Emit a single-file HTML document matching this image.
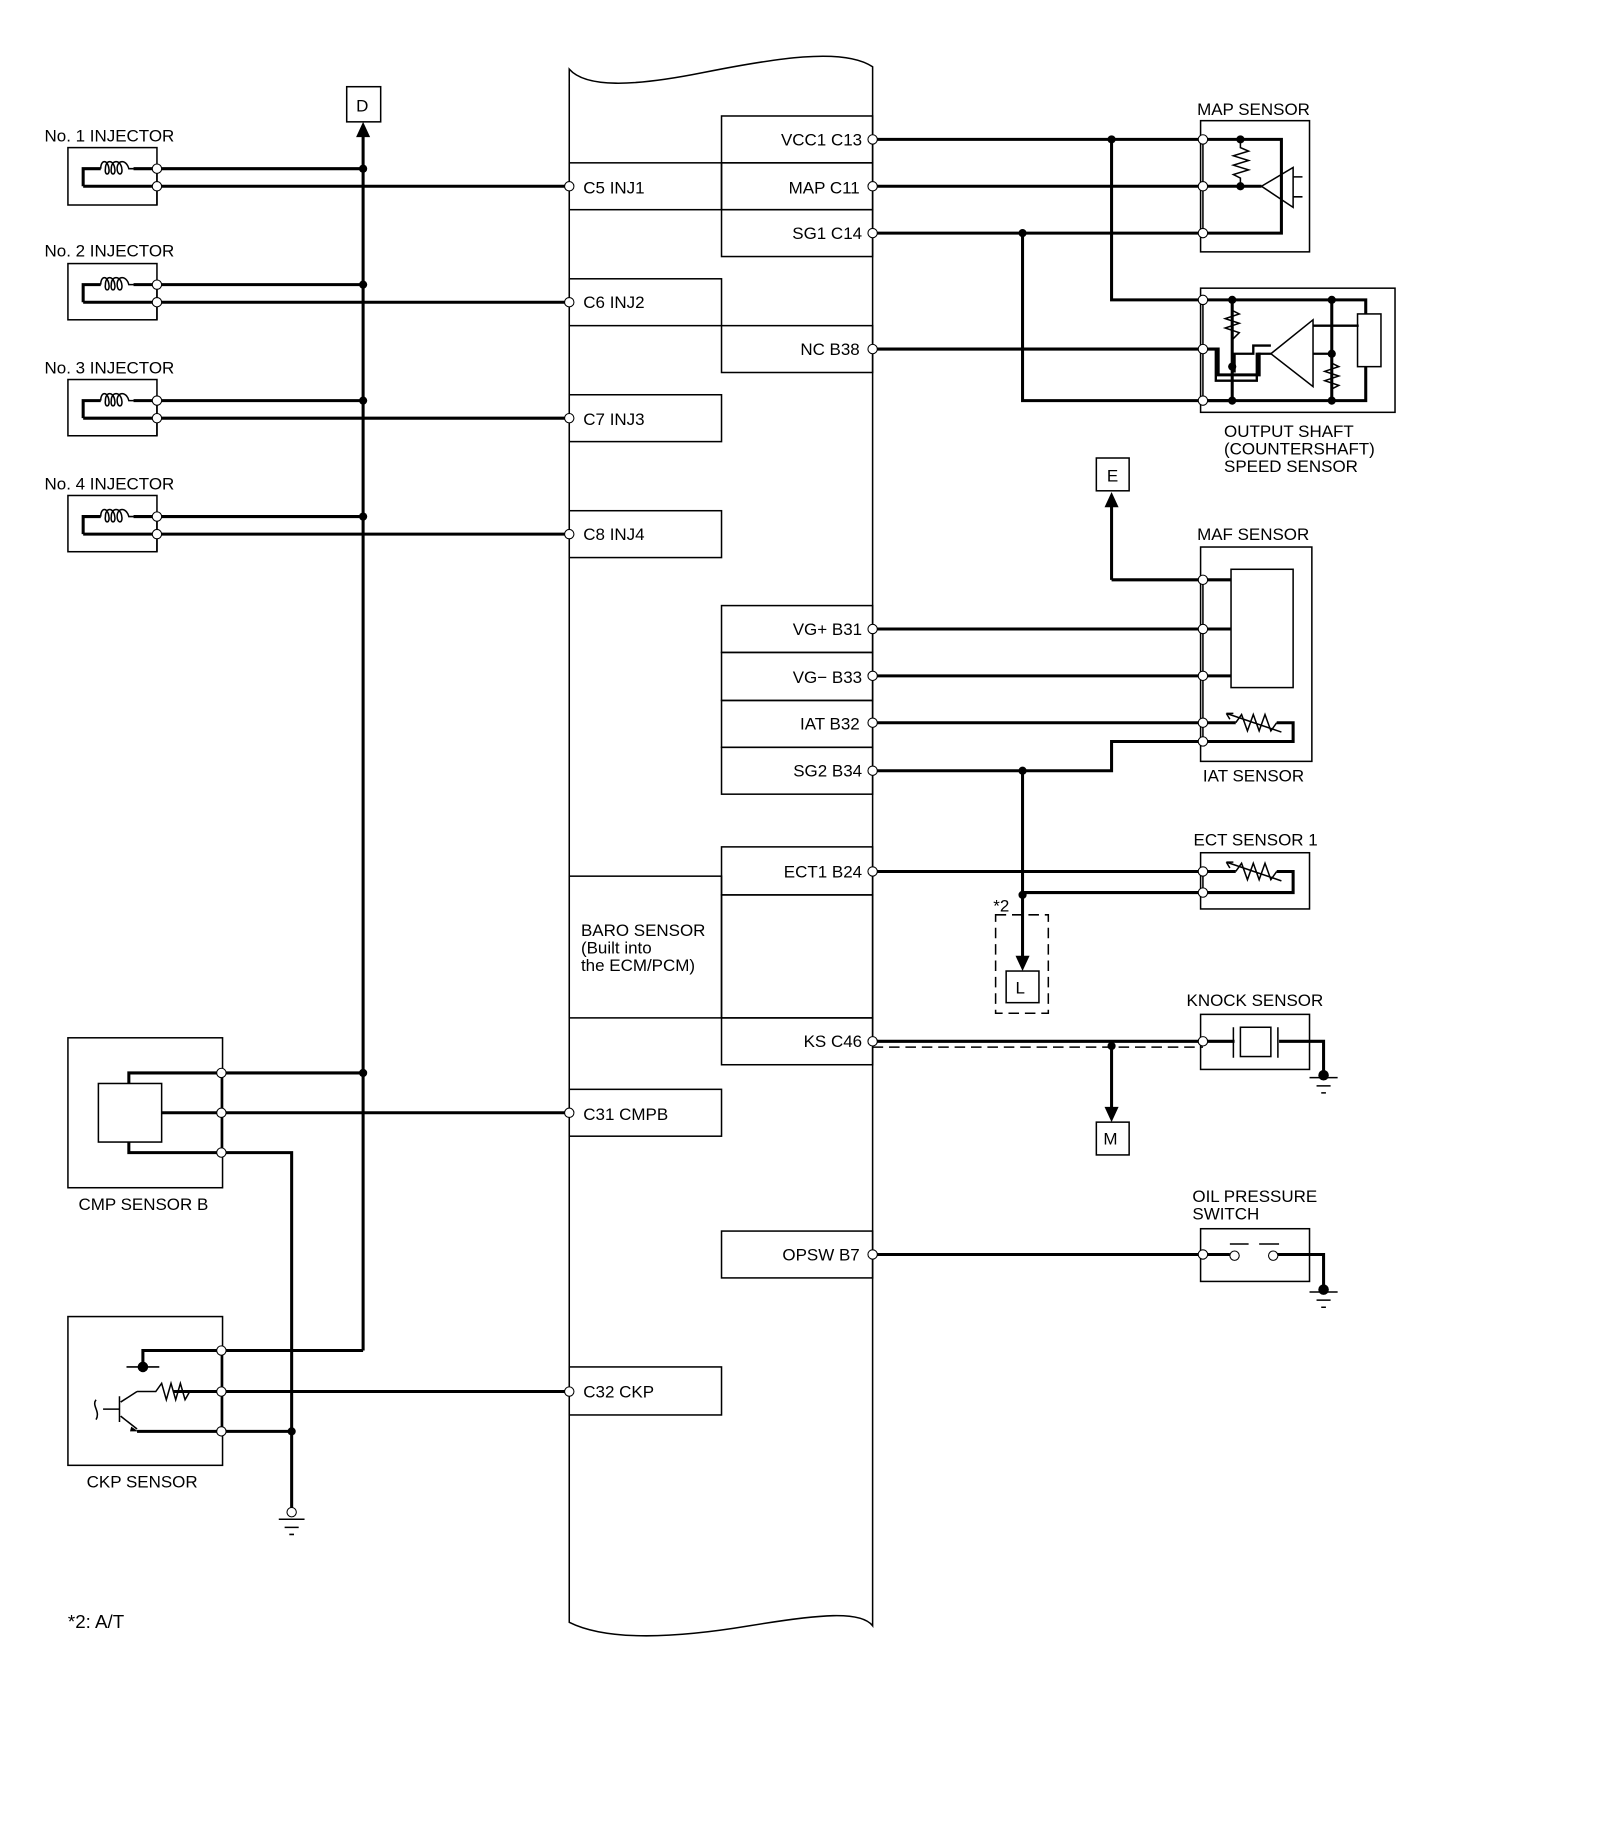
<!DOCTYPE html>
<html><head><meta charset="utf-8"><style>
html,body{margin:0;padding:0;background:#fff;}
svg{display:block;}
text{font-family:"Liberation Sans",Arial,sans-serif;font-size:14.5px;fill:#000;}
</style></head><body>
<svg width="1600" height="1839" viewBox="0 0 1366 1570" xmlns="http://www.w3.org/2000/svg">
<rect width="1366" height="1570" fill="#fff"/>

<!-- ECM outline -->
<g fill="none" stroke="#000" stroke-width="1.3">
<path d="M486,59 C500,75 540,74 600,62 S720,40 745,57 L745,1388 C735,1375 700,1378 640,1388 S520,1402 486,1385 Z"/>
<rect x="486" y="139" width="130" height="40"/>
<rect x="486" y="238" width="130" height="40"/>
<rect x="486" y="337" width="130" height="40"/>
<rect x="486" y="436" width="130" height="40"/>
<rect x="486" y="748" width="130" height="121"/>
<rect x="486" y="930" width="130" height="40"/>
<rect x="486" y="1167" width="130" height="41"/>
<rect x="616" y="99" width="129" height="40"/>
<rect x="616" y="139" width="129" height="40"/>
<rect x="616" y="179" width="129" height="40"/>
<rect x="616" y="278" width="129" height="40"/>
<rect x="616" y="517" width="129" height="40"/>
<rect x="616" y="557" width="129" height="41"/>
<rect x="616" y="598" width="129" height="40"/>
<rect x="616" y="638" width="129" height="40"/>
<rect x="616" y="723" width="129" height="41"/>
<rect x="616" y="764" width="129" height="105"/>
<rect x="616" y="869" width="129" height="40"/>
<rect x="616" y="1051" width="129" height="40"/>
</g>
<g>
<text x="498" y="165">C5 INJ1</text>
<text x="498" y="263">C6 INJ2</text>
<text x="498" y="363">C7 INJ3</text>
<text x="498" y="461">C8 INJ4</text>
<text x="496" y="799">BARO SENSOR</text>
<text x="496" y="814">(Built into</text>
<text x="496" y="829">the ECM/PCM)</text>
<text x="498" y="956">C31 CMPB</text>
<text x="498" y="1193">C32 CKP</text>
<g text-anchor="end">
<text x="736" y="124">VCC1 C13</text>
<text x="734" y="165">MAP C11</text>
<text x="736" y="204">SG1 C14</text>
<text x="734" y="303">NC B38</text>
<text x="736" y="542">VG+ B31</text>
<text x="736" y="583">VG− B33</text>
<text x="734" y="623">IAT B32</text>
<text x="736" y="663">SG2 B34</text>
<text x="736" y="749">ECT1 B24</text>
<text x="736" y="894">KS C46</text>
<text x="734" y="1076">OPSW B7</text>
</g>
</g>

<!-- thick wires -->
<g fill="none" stroke="#000" stroke-width="2.6">
<path d="M71,159 V144 H86 M114,144 H310 M71,159 H486"/>
<path d="M71,258 V243 H86 M114,243 H310 M71,258 H486"/>
<path d="M71,357 V342 H86 M114,342 H310 M71,357 H486"/>
<path d="M71,456 V441 H86 M114,441 H310 M71,456 H486"/>
<path d="M310,1153 V116"/>
<path d="M110,925 V916 H310 M138,950 H486 M110,975 V984 H249 V1288"/>
<path d="M122,1167 V1153 H310 M148,1188 H189 H486 M117,1222 H249"/>
<path d="M745,119 H1094 V199 H745"/>
<path d="M745,159 H1077"/>
<path d="M949,119 V256 H1166 V268 M1166,313 V342 H873 V199"/>
<path d="M745,298 H1040 V320 H1075 V301"/>
<path d="M1027,342 H1052"/>
<path d="M1052,256 V342 M1137,256 V342"/>
<path d="M949,495 V430"/>
<path d="M949,495 H1051 M745,537 H1051 M745,577 H1051"/>
<path d="M745,617 H1055 M1090,617 H1104 V633 H949 V658 H745"/>
<path d="M873,658 V818"/>
<path d="M745,744 H1055 M1090,744 H1104 V762 H873"/>
<path d="M745,889 H1054 M1092,889 H1130 V918"/>
<path d="M949,893 V948"/>
<path d="M745,1071 H1050 M1090,1071 H1130 V1101"/>
</g>
<!-- arrowheads -->
<g fill="#000">
<path d="M310,104 L304,117 L316,117 Z"/>
<path d="M949,420 L943,433 L955,433 Z"/>
<path d="M873,829 L867,816 L879,816 Z"/>
<path d="M949,958 L943,945 L955,945 Z"/>
</g>
<!-- output shaft internals -->
<g fill="none" stroke="#000" stroke-width="2">
<path d="M1052,256 V265 M1052,290 V342"/>
<path d="M1027,298 H1038 V325 H1073 V302 H1085"/>
<path d="M1054,318 V302 H1070 V295 H1085"/>
<path d="M1121,278 H1160 M1121,302 H1137"/>
</g>
<g fill="none" stroke="#000" stroke-width="1.3">
<rect x="58" y="126" width="76" height="49"/>
<rect x="58" y="225" width="76" height="48"/>
<rect x="58" y="324" width="76" height="48"/>
<rect x="58" y="423" width="76" height="48"/>
<rect x="296" y="74" width="29" height="30"/>
<rect x="1025" y="103" width="93" height="112"/>
<rect x="1025" y="246" width="166" height="106"/>
<rect x="936" y="391" width="28" height="28"/>
<rect x="1025" y="467" width="95" height="183"/>
<rect x="1051" y="486" width="53" height="101"/>
<rect x="1025" y="728" width="93" height="48"/>
<rect x="859" y="829" width="28" height="27"/>
<rect x="1025" y="866" width="93" height="47"/>
<rect x="1059" y="877" width="26" height="25"/>
<path d="M1053,877 V903 M1091,877 V903"/>
<rect x="936" y="958" width="28" height="28"/>
<rect x="1025" y="1049" width="93" height="45"/>
<path d="M1050,1062 H1066 M1075,1062 H1092"/>
<rect x="58" y="886" width="132" height="128"/>
<rect x="84" y="925" width="54" height="50"/>
<rect x="58" y="1124" width="132" height="127"/>
<rect x="1159" y="268" width="20" height="45"/>
<path d="M134,144 V175 M134,243 V273 M134,342 V372 M134,441 V471"/>
<path d="M1027,119 V199 M1027,256 V342 M1027,495 V633 M1027,744 V762 M189,916 V984 M189,1153 V1222"/>
<path d="M86,144 C86,136 92,136 93,144 C94,150 89,150 90,144 C90,136 97,136 98,144 C99,150 94,150 95,144 C95,136 103,136 104,144 C105,150 100,150 100,144 C100,136 108,136 110,144 H114"/>
<path d="M86,243 C86,235 92,235 93,243 C94,249 89,249 90,243 C90,235 97,235 98,243 C99,249 94,249 95,243 C95,235 103,235 104,243 C105,249 100,249 100,243 C100,235 108,235 110,243 H114"/>
<path d="M86,342 C86,334 92,334 93,342 C94,348 89,348 90,342 C90,334 97,334 98,342 C99,348 94,348 95,342 C95,334 103,334 104,342 C105,348 100,348 100,342 C100,334 108,334 110,342 H114"/>
<path d="M86,441 C86,433 92,433 93,441 C94,447 89,447 90,441 C90,433 97,433 98,441 C99,447 94,447 95,441 C95,433 103,433 104,441 C105,447 100,447 100,441 C100,433 108,433 110,441 H114"/>
<path d="M1059,119 V126 L1066,129 L1053,133 L1066,137 L1053,141 L1066,145 L1053,149 L1059,152 V159"/>
<path d="M1077,159 L1104,143 V177 Z M1104,151 H1112 M1104,168 H1112"/>
<path d="M1052,265 L1058,268 L1046,272 L1058,276 L1046,280 L1058,284 L1052,290"/>
<path d="M1085,302 L1121,273 V330 Z"/>
<path d="M1137,310 L1143,313 L1131,317 L1143,321 L1131,325 L1143,329 L1137,332"/>
<path d="M1055,617 L1060,610 L1065,624 L1070,610 L1075,624 L1080,610 L1085,624 L1090,617 M1047,609 L1094,625 M1047,609 l6,0 M1047,609 l3,5"/>
<path d="M1055,744 L1060,737 L1065,751 L1070,737 L1075,751 L1080,737 L1085,751 L1090,744 M1047,736 L1094,752 M1047,736 l6,0 M1047,736 l3,5"/>
<path d="M1118,920 H1142 M1124,927 H1136 M1128,933 H1132"/>
<path d="M1118,1103 H1142 M1124,1110 H1136 M1128,1116 H1132"/>
<path d="M238,1297 H260 M243,1304 H255 M247,1310 H251"/>
<path d="M108,1167 H136"/>
<path d="M117,1188 H133 L138,1181 L142,1195 L146,1181 L150,1195 L154,1181 L158,1195 L162,1188 H189" />
<path d="M102,1192 V1214 M88,1203 H102 M103,1197 L117,1188 M103,1209 L117,1220 M82,1195 C78,1200 86,1205 82,1212"/>
</g>
<path d="M112,1218 L118,1222 L111,1222 Z" fill="#000"/>
<circle cx="122" cy="1167" r="4.5" fill="#000"/>
<g fill="none" stroke="#000" stroke-width="1.3" stroke-dasharray="9,5">
<rect x="850" y="781" width="45" height="84"/>
<path d="M745,894 H1027"/>
</g>
<text x="848" y="778">*2</text>
<g fill="#000">
<circle cx="310" cy="144" r="3.5"/><circle cx="310" cy="243" r="3.5"/><circle cx="310" cy="342" r="3.5"/><circle cx="310" cy="441" r="3.5"/><circle cx="310" cy="916" r="3.5"/>
<circle cx="249" cy="1222" r="3.5"/>
<circle cx="949" cy="119" r="3.5"/><circle cx="873" cy="199" r="3.5"/>
<circle cx="1059" cy="119" r="3.5"/><circle cx="1059" cy="159" r="3.5"/>
<circle cx="1052" cy="256" r="3.5"/><circle cx="1052" cy="313" r="3.5"/><circle cx="1052" cy="342" r="3.5"/>
<circle cx="1137" cy="256" r="3.5"/><circle cx="1137" cy="302" r="3.5"/><circle cx="1137" cy="342" r="3.5"/>
<circle cx="873" cy="658" r="3.5"/><circle cx="873" cy="764" r="3.5"/>
<circle cx="949" cy="893" r="3.5"/>
<circle cx="1130" cy="918" r="4.5"/><circle cx="1130" cy="1101" r="4.5"/>
</g>
<g fill="#fff" stroke="#000" stroke-width="0.9">
<circle cx="134" cy="144" r="4"/><circle cx="134" cy="159" r="4"/>
<circle cx="134" cy="243" r="4"/><circle cx="134" cy="258" r="4"/>
<circle cx="134" cy="342" r="4"/><circle cx="134" cy="357" r="4"/>
<circle cx="134" cy="441" r="4"/><circle cx="134" cy="456" r="4"/>
<circle cx="486" cy="159" r="4"/><circle cx="486" cy="258" r="4"/><circle cx="486" cy="357" r="4"/><circle cx="486" cy="456" r="4"/>
<circle cx="486" cy="950" r="4"/><circle cx="486" cy="1188" r="4"/>
<circle cx="745" cy="119" r="4"/><circle cx="745" cy="159" r="4"/><circle cx="745" cy="199" r="4"/><circle cx="745" cy="298" r="4"/>
<circle cx="745" cy="537" r="4"/><circle cx="745" cy="577" r="4"/><circle cx="745" cy="617" r="4"/><circle cx="745" cy="658" r="4"/>
<circle cx="745" cy="744" r="4"/><circle cx="745" cy="889" r="4"/><circle cx="745" cy="1071" r="4"/>
<circle cx="1027" cy="119" r="4"/><circle cx="1027" cy="159" r="4"/><circle cx="1027" cy="199" r="4"/>
<circle cx="1027" cy="256" r="4"/><circle cx="1027" cy="298" r="4"/><circle cx="1027" cy="342" r="4"/>
<circle cx="1027" cy="495" r="4"/><circle cx="1027" cy="537" r="4"/><circle cx="1027" cy="577" r="4"/><circle cx="1027" cy="617" r="4"/><circle cx="1027" cy="633" r="4"/>
<circle cx="1027" cy="744" r="4"/><circle cx="1027" cy="762" r="4"/>
<circle cx="1027" cy="889" r="4"/><circle cx="1027" cy="1071" r="4"/>
<circle cx="1054" cy="1072" r="4"/><circle cx="1087" cy="1072" r="4"/>
<circle cx="189" cy="916" r="4"/><circle cx="189" cy="950" r="4"/><circle cx="189" cy="984" r="4"/>
<circle cx="189" cy="1153" r="4"/><circle cx="189" cy="1188" r="4"/><circle cx="189" cy="1222" r="4"/>
<circle cx="249" cy="1291" r="4"/>
</g>
<g>
<text x="38" y="121">No. 1 INJECTOR</text>
<text x="38" y="219">No. 2 INJECTOR</text>
<text x="38" y="319">No. 3 INJECTOR</text>
<text x="38" y="418">No. 4 INJECTOR</text>
<text x="304" y="95">D</text>
<text x="945" y="411">E</text>
<text x="867" y="848">L</text>
<text x="942" y="977">M</text>
<text x="1022" y="98">MAP SENSOR</text>
<text x="1045" y="373">OUTPUT SHAFT</text>
<text x="1045" y="388">(COUNTERSHAFT)</text>
<text x="1045" y="403">SPEED SENSOR</text>
<text x="1022" y="461">MAF SENSOR</text>
<text x="1027" y="667">IAT SENSOR</text>
<text x="1019" y="722">ECT SENSOR 1</text>
<text x="1013" y="859">KNOCK SENSOR</text>
<text x="1018" y="1026">OIL PRESSURE</text>
<text x="1018" y="1041">SWITCH</text>
<text x="67" y="1033">CMP SENSOR B</text>
<text x="74" y="1270">CKP SENSOR</text>
<text x="58" y="1390" style="font-size:16px">*2:  A/T</text>
</g>
</svg>
</body></html>
